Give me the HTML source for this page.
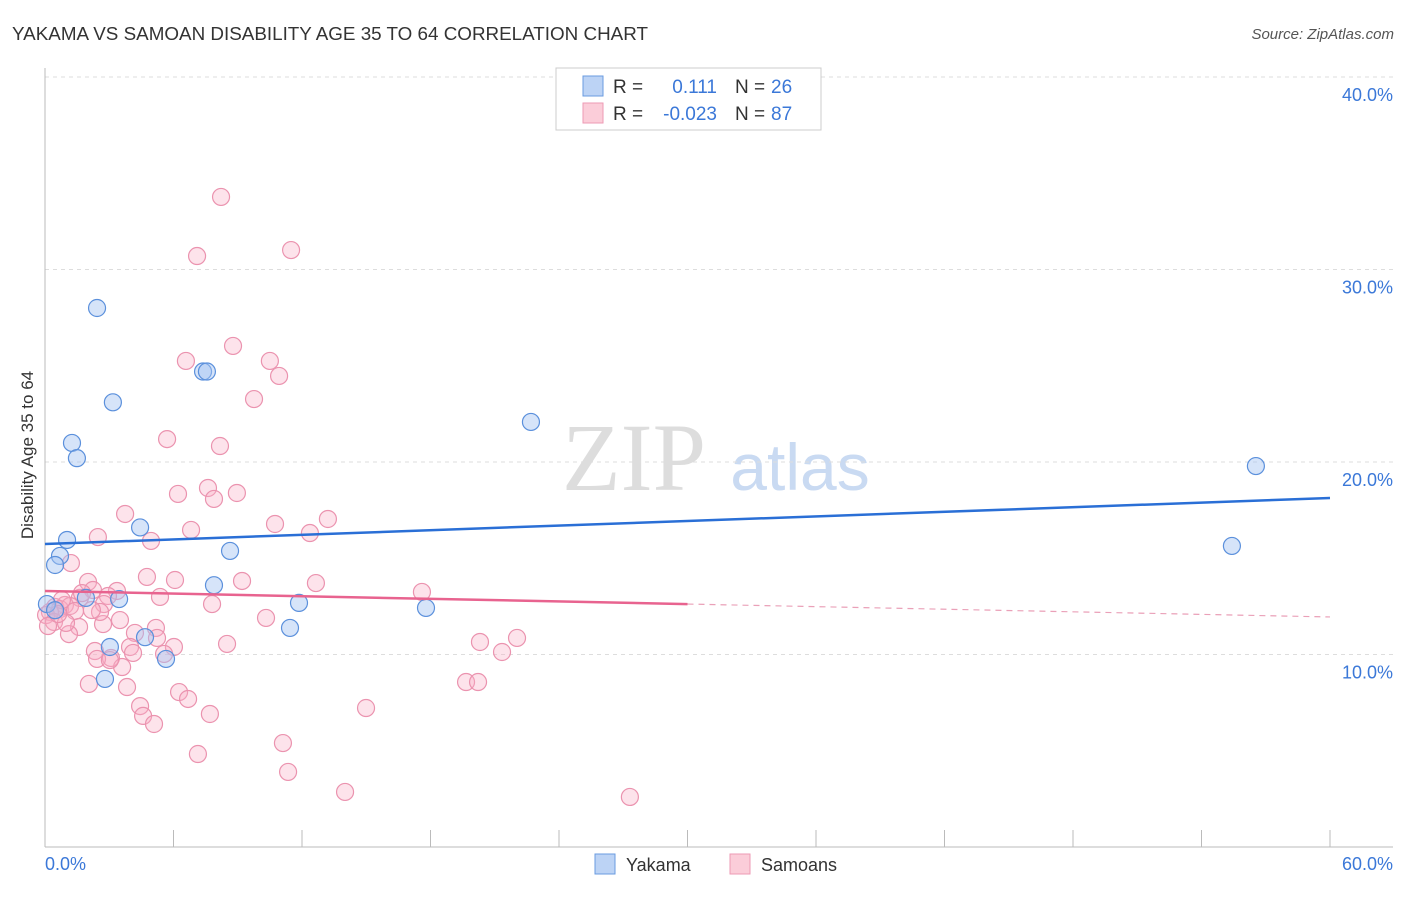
<!DOCTYPE html>
<html><head><meta charset="utf-8"><style>
body{margin:0;background:#fff;font-family:"Liberation Sans",sans-serif}
svg text{font-family:"Liberation Sans",sans-serif}
</style></head><body>
<svg id="chart" width="1406" height="892">
<text x="12" y="40" font-size="18" fill="#333" textLength="636" lengthAdjust="spacingAndGlyphs">YAKAMA VS SAMOAN DISABILITY AGE 35 TO 64 CORRELATION CHART</text>
<text x="1394" y="39" font-size="15" fill="#555" text-anchor="end" font-style="italic">Source: ZipAtlas.com</text>
<text x="634" y="490" font-size="96" fill="#ddd" text-anchor="middle" style="font-family:'Liberation Serif',serif">ZIP</text>
<text x="800" y="490" font-size="66" fill="#c9daf2" text-anchor="middle">atlas</text>
<g id="grid"></g><g id="axes"></g><g id="pts"></g><g id="trend"></g>
<text transform="translate(33,455) rotate(-90)" font-size="17" fill="#333" text-anchor="middle">Disability Age 35 to 64</text>
<g>
<rect x="556" y="68" width="265" height="62" fill="#fff" stroke="#ccc"/>
<rect x="583" y="76" width="20" height="20" fill="#bcd3f5" stroke="#6a9be0"/>
<rect x="583" y="103" width="20" height="20" fill="#fbcdd9" stroke="#ee9ab4"/>
<text x="613" y="93" font-size="19" fill="#333">R = </text><text x="717" y="93" font-size="19" fill="#3b78d8" text-anchor="end">0.111</text>
<text x="735" y="93" font-size="19" fill="#333">N = </text><text x="771" y="93" font-size="19" fill="#3b78d8">26</text>
<text x="613" y="120" font-size="19" fill="#333">R = </text><text x="717" y="120" font-size="19" fill="#3b78d8" text-anchor="end">-0.023</text>
<text x="735" y="120" font-size="19" fill="#333">N = </text><text x="771" y="120" font-size="19" fill="#3b78d8">87</text>
</g>
<g>
<rect x="595" y="854" width="20" height="20" fill="#bcd3f5" stroke="#6a9be0"/>
<text x="626" y="871" font-size="18" fill="#333">Yakama</text>
<rect x="730" y="854" width="20" height="20" fill="#fbcdd9" stroke="#ee9ab4"/>
<text x="761" y="871" font-size="18" fill="#333">Samoans</text>
</g>
</svg>
<script>
const yTicks=[10,20,30,40];
const yTickLabels=["10.0%","20.0%","30.0%","40.0%"];
const xTickLabels=["0.0%","60.0%"];
const yakamaX=[2.43,3.17,1.26,1.49,7.38,7.56,4.44,1.03,0.70,0.47,8.64,7.89,3.46,1.91,0.09,11.86,11.44,17.79,4.67,3.03,5.65,2.80,22.69,56.54,55.42,0.47];
const yakamaY=[28.0,23.1,20.99,20.2,24.7,24.7,16.6,15.95,15.12,14.65,15.38,13.6,12.88,12.94,12.62,12.68,11.38,12.42,10.9,10.39,9.77,8.73,22.08,19.79,15.64,12.3];
const samoanX=[8.22,7.10,11.49,8.78,6.58,10.50,10.93,9.76,5.70,8.17,6.21,8.96,7.61,7.89,3.74,6.82,10.74,13.21,12.37,2.47,4.95,1.21,4.76,9.20,12.65,2.01,2.24,3.36,2.94,1.63,2.75,0.93,0.47,0.70,0.23,0.05,1.17,1.40,7.80,17.60,10.32,3.50,2.71,1.59,1.12,5.18,4.20,5.23,6.02,8.50,3.97,2.33,4.11,5.56,3.08,2.43,3.60,20.31,22.04,21.34,2.05,3.83,19.66,20.22,6.26,6.68,4.44,4.58,7.70,14.99,5.09,7.14,11.11,11.35,14.01,27.31,0.42,0.14,0.98,0.79,2.57,3.03,5.37,6.07,0.61,1.73,2.19];
const samoanY=[33.77,30.70,31.01,26.03,25.25,25.25,24.47,23.27,21.19,20.83,18.34,18.39,18.65,18.08,17.30,16.47,16.78,17.04,16.31,16.10,15.90,14.75,14.03,13.82,13.71,13.77,13.35,13.30,13.04,12.94,12.62,12.57,12.47,12.36,12.21,12.05,12.52,12.26,12.62,13.25,11.90,11.79,11.58,11.43,11.06,11.38,11.12,10.86,10.39,10.55,10.39,10.18,10.08,10.03,9.82,9.77,9.35,10.65,10.86,10.13,8.47,8.31,8.57,8.57,8.05,7.69,7.32,6.81,6.91,7.22,6.39,4.83,5.40,3.90,2.86,2.60,11.69,11.48,11.64,12.83,12.21,9.71,12.99,13.87,12.10,13.19,12.31];
const yakamaTrend=[15.74,18.13];
const samoanTrend=[13.30,12.62,11.95];
const NS="http://www.w3.org/2000/svg";
const X=v=>45+v/60*1285, Y=v=>847-v*19.25;
function mk(parent,tag,attrs){const e=document.createElementNS(NS,tag);for(const k in attrs)e.setAttribute(k,attrs[k]);document.getElementById(parent).appendChild(e);return e;}
yTicks.forEach((t,i)=>{
 const g=mk('grid','line',{x1:45,x2:1393,y1:Y(t),y2:Y(t),stroke:'#ddd','stroke-dasharray':'4,4'});
 
 
 const l=mk('grid','text',{x:1393,y:Y(t)+24,'font-size':18,fill:'#3b78d8','text-anchor':'end'});
 l.textContent=yTickLabels[i];
 
 
});
const ax=mk('axes','line',{x1:45,x2:45,y1:68,y2:847,stroke:'#bbb'});


const bx=mk('axes','line',{x1:45,x2:1393,y1:847,y2:847,stroke:'#bbb'});


for(let k=0;k<=10;k++){const t=mk('axes','line',{x1:X(k*6),x2:X(k*6),y1:830,y2:847,stroke:'#bbb'});
 
 }
const xl0=mk('axes','text',{x:45,y:870,'font-size':18,fill:'#3b78d8'});xl0.textContent=xTickLabels[0];


const xl1=mk('axes','text',{x:1393,y:870,'font-size':18,fill:'#3b78d8','text-anchor':'end'});xl1.textContent=xTickLabels[1];


samoanX.forEach((x,i)=>{const c=mk('pts','circle',{cx:X(x),cy:Y(samoanY[i]),r:8.5,fill:'rgba(248,175,198,0.35)',stroke:'#eb93af','stroke-width':1.2});
 
 });
yakamaX.forEach((x,i)=>{const c=mk('pts','circle',{cx:X(x),cy:Y(yakamaY[i]),r:8.5,fill:'rgba(165,195,242,0.45)',stroke:'#5b90dc','stroke-width':1.2});
 
 });
const t1=mk('trend','line',{x1:X(0),y1:Y(yakamaTrend[0]),x2:X(60),y2:Y(yakamaTrend[1]),stroke:'#2a6fd6','stroke-width':2.5});


const t2=mk('trend','line',{x1:X(0),y1:Y(samoanTrend[0]),x2:X(30),y2:Y(samoanTrend[1]),stroke:'#e8638f','stroke-width':2.5});


const t3=mk('trend','line',{x1:X(30),y1:Y(samoanTrend[1]),x2:X(60),y2:Y(samoanTrend[2]),stroke:'#eaa0b8','stroke-width':1.2,'stroke-dasharray':'6,5'});


</script>
</body></html>
